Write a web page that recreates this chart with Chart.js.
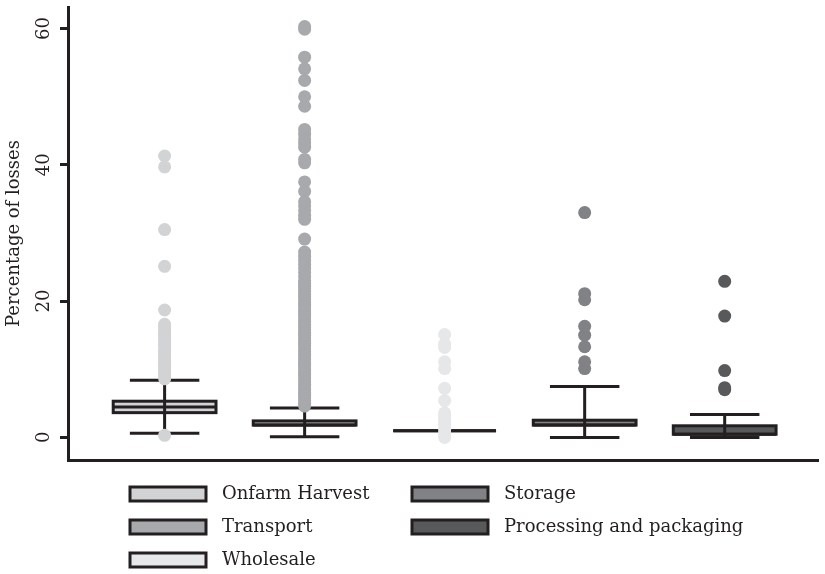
<!DOCTYPE html>
<html>
<head>
<meta charset="utf-8">
<script src="https://cdn.jsdelivr.net/npm/chart.js@4.4.1/dist/chart.umd.min.js"></script>
<style>
  html, body { margin: 0; padding: 0; background: #fff; }
  #wrap { width: 825px; height: 574px; position: relative; }
</style>
</head>
<body>
<div id="wrap"><canvas id="lossChart"></canvas></div>
<script>
// categories and box statistics (percentage of losses)
const categories = ['Onfarm Harvest', 'Transport', 'Wholesale', 'Storage', 'Processing and packaging'];
const whiskerLow = [0.62, 0.1, 0.97, 0.0, 0.0];
const q1 = [3.63, 1.8, 0.97, 1.8, 0.46];
const median = [4.47, 1.8, 0.97, 1.8, 0.46];
const q3 = [5.31, 2.42, 0.97, 2.52, 1.7];
const whiskerHigh = [8.37, 4.33, 0.97, 7.45, 3.37];

// outliers per category
const outOnfarm = [0.3, 8.6, 9.0, 9.4, 9.8, 10.2, 10.6, 11.0, 11.4, 11.8, 12.2, 12.6, 13.0, 13.4, 13.8,
  14.2, 14.6, 15.0, 15.4, 15.8, 16.2, 16.6, 18.7, 25.1, 30.5, 39.7, 41.3];
const outTransport = [4.6, 5.0, 5.4, 5.8, 6.2, 6.6, 7.0, 7.4, 7.8, 8.2, 8.6, 9.0, 9.4, 9.8, 10.2, 10.6,
  11.0, 11.4, 11.8, 12.2, 12.6, 13.0, 13.4, 13.8, 14.2, 14.6, 15.0, 15.4, 15.8, 16.2, 16.6, 17.0,
  17.4, 17.8, 18.2, 18.6, 19.0, 19.4, 19.8, 20.2, 20.6, 21.0, 21.4, 21.8, 22.2, 22.6, 23.0, 23.6, 24.2, 24.8,
  25.4, 26.0, 26.6, 27.2, 29.1, 32.0, 32.6, 33.3, 34.0, 34.6, 36.1, 37.5, 40.3, 40.8, 42.6, 43.2,
  43.8, 44.5, 45.2, 48.6, 50.0, 52.4, 54.1, 55.8, 59.9, 60.3];
const outWholesale = [0.0, 0.4, 0.8, 1.2, 1.6, 2.0, 2.4, 2.8, 3.2, 3.6, 5.4, 7.2, 10.1, 11.1, 13.2, 13.7, 15.1];
const outStorage = [10.1, 11.1, 13.3, 15.0, 16.3, 20.2, 21.1, 33.0];
const outProcessing = [7.0, 7.3, 9.8, 17.8, 22.9];
const outliers = [outOnfarm, outTransport, outWholesale, outStorage, outProcessing];

const yTicks = [0, 20, 40, 60];

const fills = ['#d1d3d4', '#a7a9ac', '#e6e7e8', '#808285', '#58595b'];
const ink = '#231f20';
const fontFamily = "'DejaVu Serif', 'Liberation Serif', serif";

const boxPlugin = {
  id: 'boxes',
  beforeDatasetsDraw(chart) {
    const { ctx, scales: { x, y } } = chart;
    ctx.save();
    categories.forEach((c, i) => {
      const cx = x.getPixelForValue(i + 1);
      const bw = x.getPixelForValue(i + 1 + 0.367) - cx;
      const cw = x.getPixelForValue(i + 1 + 0.248) - cx;
      const yHi = y.getPixelForValue(whiskerHigh[i]);
      const yLo = y.getPixelForValue(whiskerLow[i]);
      const yQ1 = y.getPixelForValue(q1[i]);
      const yQ3 = y.getPixelForValue(q3[i]);
      const yMed = y.getPixelForValue(median[i]);
      ctx.lineWidth = 3;
      ctx.strokeStyle = ink;
      // box
      ctx.fillStyle = fills[i];
      ctx.fillRect(cx - bw, yQ3, bw * 2, yQ1 - yQ3);
      ctx.strokeRect(cx - bw, yQ3, bw * 2, yQ1 - yQ3);
      // whiskers + median
      ctx.beginPath();
      ctx.moveTo(cx, yLo); ctx.lineTo(cx, yHi);
      ctx.moveTo(cx - cw, yHi); ctx.lineTo(cx + cw, yHi);
      ctx.moveTo(cx - cw, yLo); ctx.lineTo(cx + cw, yLo);
      ctx.moveTo(cx - bw, yMed); ctx.lineTo(cx + bw, yMed);
      ctx.stroke();
    });
    ctx.restore();
  },
  afterDraw(chart) {
    const { ctx, scales: { y } } = chart;
    ctx.save();
    // y tick labels, rotated
    ctx.fillStyle = ink;
    ctx.font = '18px ' + fontFamily;
    ctx.textAlign = 'center';
    ctx.textBaseline = 'middle';
    yTicks.forEach(t => {
      ctx.save();
      ctx.translate(44, y.getPixelForValue(t));
      ctx.rotate(-Math.PI / 2);
      ctx.fillText(String(t), 0, 0);
      ctx.restore();
    });
    // legend, two columns
    categories.forEach((c, i) => {
      const col = i < 3 ? 0 : 1;
      const row = i % 3;
      const bx = 130 + col * 282;
      const by = 494 + row * 33;
      ctx.fillStyle = fills[i];
      ctx.lineWidth = 3;
      ctx.strokeStyle = ink;
      ctx.fillRect(bx, by - 7, 76, 14);
      ctx.strokeRect(bx, by - 7, 76, 14);
      ctx.fillStyle = ink;
      ctx.textAlign = 'left';
      ctx.fillText(c, bx + 92, by);
    });
    ctx.restore();
  }
};

const datasets = outliers.map((vals, i) => ({
  label: categories[i],
  data: vals.map(v => ({ x: i + 1, y: v })),
  backgroundColor: fills[i],
  borderWidth: 0,
  pointRadius: 6.5,
  pointHoverRadius: 6.5
}));

new Chart(document.getElementById('lossChart'), {
  type: 'scatter',
  data: { datasets: datasets },
  options: {
    responsive: true,
    maintainAspectRatio: false,
    animation: false,
    layout: { padding: { top: 7, right: 0, bottom: 106, left: 0 } },
    plugins: { legend: { display: false }, tooltip: { enabled: false } },
    scales: {
      x: {
        type: 'linear',
        min: 0.31,
        max: 5.67,
        ticks: { display: false },
        grid: { display: false },
        border: { display: true, color: ink, width: 3 }
      },
      y: {
        min: -3.32,
        max: 63.17,
        afterBuildTicks: s => { s.ticks = yTicks.map(v => ({ value: v })); },
        afterFit: s => { s.width = 68; },
        ticks: { display: false },
        grid: { drawOnChartArea: false, drawTicks: true, tickLength: 8, color: ink, lineWidth: 3 },
        border: { display: true, color: ink, width: 3 },
        title: {
          display: true,
          text: 'Percentage of losses',
          color: ink,
          font: { family: fontFamily, size: 18 },
          padding: { top: 4, bottom: 0 }
        }
      }
    }
  },
  plugins: [boxPlugin]
});
</script>
</body>
</html>
